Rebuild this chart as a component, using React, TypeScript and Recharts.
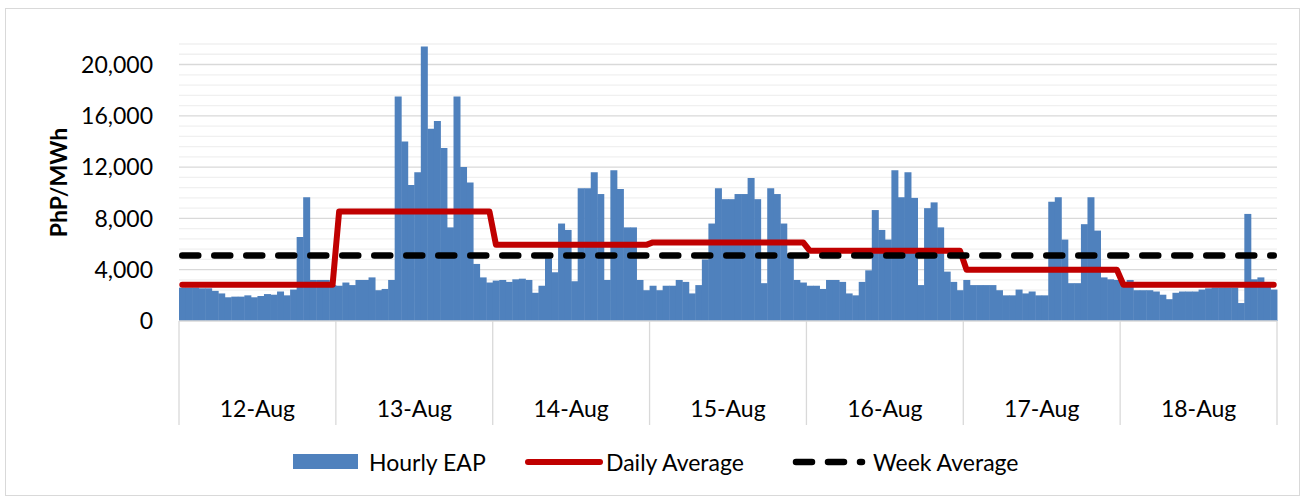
import React from "react";
import { ComposedChart, Bar, Line, XAxis, YAxis, CartesianGrid, Legend } from "recharts";

// Hourly EAP vs daily / week averages, 12-18 Aug.
const BLUE = "#4F81BD";
const RED = "#C00000";
const FONT = "Lato, 'Open Sans', sans-serif";

const DAYS = ["12-Aug", "13-Aug", "14-Aug", "15-Aug", "16-Aug", "17-Aug", "18-Aug"];

// PhP/MWh, 24 hourly values per day
const EAP_12 = [2600, 2600, 2600, 2550, 2550, 2350, 2150, 1850, 1900, 1900, 2000, 1850, 1950, 2100, 2050, 2300, 2000, 2450, 6550, 9650, 3200, 3200, 3200, 2800];
const EAP_13 = [2750, 3000, 2800, 3200, 3200, 3400, 2400, 2500, 3200, 17500, 14000, 10600, 11600, 21400, 15000, 15600, 13500, 7300, 17500, 12000, 10800, 4450, 3400, 3000];
const EAP_14 = [3150, 3200, 3050, 3250, 3300, 3200, 2200, 2750, 4900, 3800, 7600, 7100, 3100, 10350, 10350, 11600, 9900, 3200, 11750, 10300, 7300, 7300, 3200, 2400];
const EAP_15 = [2750, 2400, 2750, 2750, 3200, 3050, 2150, 2800, 4800, 7600, 10350, 9500, 9500, 9900, 9900, 11150, 9500, 2950, 10350, 9900, 7600, 5000, 3200, 3000];
const EAP_16 = [2750, 2750, 2500, 3200, 3200, 3050, 2150, 2000, 3050, 3950, 8650, 7100, 6350, 11750, 9650, 11600, 9600, 2800, 8800, 9250, 7300, 3850, 3050, 2400];
const EAP_17 = [3200, 2800, 2800, 2800, 2800, 2400, 2000, 2000, 2450, 2150, 2300, 2000, 2000, 9300, 9650, 6350, 2950, 2950, 7550, 9650, 7050, 3400, 3250, 3200];
const EAP_18 = [2900, 3200, 2400, 2400, 2400, 2300, 2050, 1700, 2200, 2300, 2300, 2300, 2450, 2550, 2600, 2600, 2600, 2600, 1400, 8350, 3250, 3400, 2700, 2450];

const DAILY_AVG = [2830, 8540, 5940, 6130, 5480, 4000, 2830];
const WEEK_AVG = 5100;

const Y_TICKS = [0, 4000, 8000, 12000, 16000, 20000];
const Y_MINOR = [800, 1600, 2400, 3200, 4800, 5600, 6400, 7200, 8800, 9600, 10400, 11200, 12800, 13600, 14400, 15200, 16800, 17600, 18400, 19200, 20800, 21600];
const Y_MAX = 21600;

const DAY_EDGES = [0, 24, 48, 72, 96, 120, 144, 168];
const DAY_MIDS = [12, 36, 60, 84, 108, 132, 156];

const HOURLY = [EAP_12, EAP_13, EAP_14, EAP_15, EAP_16, EAP_17, EAP_18];
const data = HOURLY.flatMap((day, d) =>
  day.map((v, h) => ({ idx: d * 24 + h, eap: v, daily: DAILY_AVG[d], week: WEEK_AVG }))
);

const W = 1293;
const H = 486;

function DayTick({ x, y, payload }: any) {
  return (
    <text x={x} y={y + 86} textAnchor="middle" dominantBaseline="central" fill="#000" fontSize={23} fontFamily={FONT}>
      {DAYS[Math.floor(payload.value / 24)]}
    </text>
  );
}

function AxisTitle({ viewBox }: any) {
  const cx = viewBox.x + 52;
  const cy = viewBox.y + viewBox.height / 2;
  return (
    <text
      x={cx}
      y={cy}
      transform={`rotate(-90, ${cx}, ${cy})`}
      textAnchor="middle"
      dominantBaseline="central"
      fontWeight="bold"
      fontSize={23}
      fontFamily={FONT}
      fill="#000"
    >
      PhP/MWh
    </text>
  );
}

function LegendBox() {
  const txt: React.CSSProperties = {
    position: "absolute",
    top: 0,
    fontSize: 23,
    color: "#000",
    fontFamily: FONT,
    lineHeight: "30px",
    whiteSpace: "nowrap",
  };
  return (
    <div style={{ position: "relative", height: 30 }}>
      <span style={{ position: "absolute", left: 287, top: 7, width: 65, height: 15, background: BLUE }} />
      <span style={{ ...txt, left: 363 }}>Hourly EAP</span>
      <svg width={80} height={10} style={{ position: "absolute", left: 518, top: 10 }}>
        <line x1={4} y1={5} x2={76} y2={5} stroke={RED} strokeWidth={6} strokeLinecap="round" />
      </svg>
      <span style={{ ...txt, left: 600 }}>Daily Average</span>
      <svg width={80} height={10} style={{ position: "absolute", left: 786, top: 10 }}>
        <line x1={4} y1={5} x2={70} y2={5} stroke="#000" strokeWidth={6.5} strokeDasharray="16 16" strokeLinecap="round" />
      </svg>
      <span style={{ ...txt, left: 867 }}>Week Average</span>
    </div>
  );
}

export default function App() {
  return (
    <div
      style={{
        position: "absolute",
        left: 5,
        top: 8,
        width: W,
        height: H,
        border: "1px solid #d9d9d9",
        background: "#fff",
        fontFamily: FONT,
      }}
    >
      <ComposedChart
        width={W}
        height={H}
        data={data}
        margin={{ top: 35, right: 22, left: 0, bottom: 172 }}
        barCategoryGap={0}
        barGap={0}
      >
        <CartesianGrid xAxisId="z_hour" vertical={false} horizontalValues={Y_MINOR} stroke="#f0f0f0" strokeWidth={1.3} />
        <CartesianGrid xAxisId="z_hour" vertical={false} horizontalValues={Y_TICKS.slice(1)} stroke="#d9d9d9" strokeWidth={1.3} />
        <XAxis
          xAxisId="a_sep"
          dataKey="idx"
          type="number"
          domain={[0, 168]}
          allowDataOverflow
          ticks={DAY_EDGES}
          interval={0}
          height={1}
          tickSize={104}
          tickLine={{ stroke: "#d9d9d9", strokeWidth: 1.3 }}
          axisLine={{ stroke: "#d9d9d9", strokeWidth: 1.3 }}
          tick={() => <g />}
        />
        <XAxis
          xAxisId="b_day"
          dataKey="idx"
          type="number"
          domain={[0, 168]}
          allowDataOverflow
          ticks={DAY_MIDS}
          interval={0}
          height={1}
          tickSize={0}
          tickMargin={0}
          tickLine={false}
          axisLine={false}
          tick={DayTick}
        />
        <XAxis xAxisId="z_hour" dataKey="idx" hide />
        <YAxis
          domain={[0, Y_MAX]}
          ticks={Y_TICKS}
          interval={0}
          width={173}
          tickLine={false}
          axisLine={false}
          tickSize={0}
          tickMargin={26}
          tick={{ fill: "#000", fontSize: 23, fontFamily: FONT }}
          tickFormatter={(v: number) => v.toLocaleString("en-US")}
          label={{ content: AxisTitle }}
        />
        <Bar xAxisId="z_hour" dataKey="eap" name="Hourly EAP" fill={BLUE} isAnimationActive={false} />
        <Line
          xAxisId="z_hour"
          type="linear"
          dataKey="daily"
          name="Daily Average"
          stroke={RED}
          strokeWidth={6}
          strokeLinecap="round"
          strokeLinejoin="round"
          dot={false}
          activeDot={false}
          isAnimationActive={false}
        />
        <Line
          xAxisId="z_hour"
          type="linear"
          dataKey="week"
          name="Week Average"
          stroke="#000"
          strokeWidth={6.5}
          strokeDasharray="16 16"
          strokeLinecap="round"
          dot={false}
          activeDot={false}
          isAnimationActive={false}
        />
        <Legend
          layout="horizontal"
          verticalAlign="middle"
          align="center"
          wrapperStyle={{ top: 438, left: 0, width: W }}
          content={() => <LegendBox />}
        />
      </ComposedChart>
    </div>
  );
}
